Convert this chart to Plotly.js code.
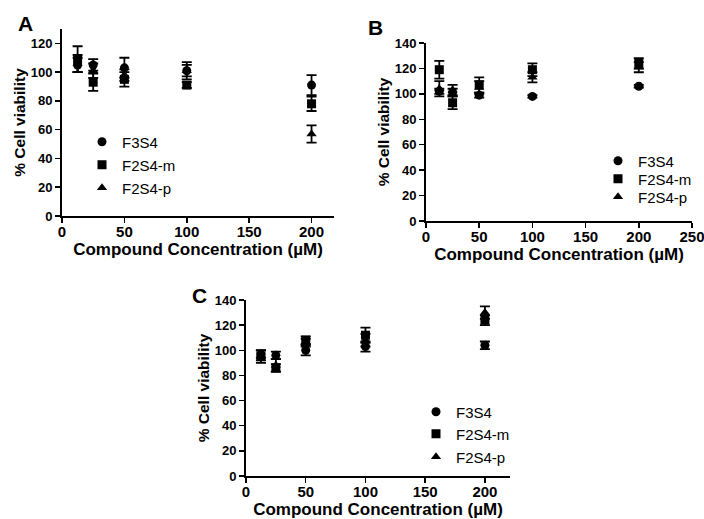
<!DOCTYPE html>
<html>
<head>
<meta charset="utf-8">
<script src="https://cdn.plot.ly/plotly-3.0.1.min.js"></script>
<style>html,body{margin:0;padding:0;background:#fff;}#chart{width:704px;height:519px;}</style>
</head>
<body>
<div id="chart"></div>
<script>
// Concentrations (µM)
var conc = [12.5, 25, 50, 100, 200];
var seriesNames = ["F3S4", "F2S4-m", "F2S4-p"];

// Panel A
var A_F3S4 = [105, 105, 103, 101, 91];
var A_F3S4_err = [5, 4, 7, 6, 7];
var A_F2S4m = [109, 93, 95, 91, 78];
var A_F2S4m_err = [9, 6, 5, 2, 5];
var A_F2S4p = [106, 101, 98, 101, 57];
var A_F2S4p_err = [6, 5, 4, 4, 6];

// Panel B
var B_F3S4 = [102, 101, 99, 98, 106];
var B_F3S4_err = [2, 3, 2, 1, 1];
var B_F2S4m = [119, 93, 107, 119, 124];
var B_F2S4m_err = [7, 5, 6, 5, 4];
var B_F2S4p = [104, 103, 105, 113, 121];
var B_F2S4p_err = [6, 4, 5, 4, 4];

// Panel C
var C_F3S4 = [97, 96, 100, 103, 104];
var C_F3S4_err = [3, 3, 4, 4, 3];
var C_F2S4m = [95, 86, 108, 112, 124];
var C_F2S4m_err = [5, 3, 3, 6, 4];
var C_F2S4p = [96, 88, 106, 108, 130];
var C_F2S4p_err = [4, 5, 3, 5, 5];

var symbols = ["circle", "square", "triangle-up"];
var FONT = "Arial, 'Liberation Sans', sans-serif";

var legIds = ["legend", "legend2", "legend3", "legend4", "legend5", "legend6", "legend7", "legend8", "legend9"];

function mk(y, err, idx, xa, ya, legIdx) {
  return {
    type: "scatter", mode: "markers",
    x: conc, y: y,
    xaxis: xa, yaxis: ya,
    name: seriesNames[idx],
    legend: legIds[legIdx],
    marker: {symbol: symbols[idx], size: 9, color: "#000"},
    error_y: {type: "data", array: err, visible: true, color: "#000", thickness: 1.8, width: 5},
    showlegend: true
  };
}

var data = [
  mk(A_F3S4, A_F3S4_err, 0, "x", "y", 0),
  mk(A_F2S4m, A_F2S4m_err, 1, "x", "y", 1),
  mk(A_F2S4p, A_F2S4p_err, 2, "x", "y", 2),
  mk(B_F3S4, B_F3S4_err, 0, "x2", "y2", 3),
  mk(B_F2S4m, B_F2S4m_err, 1, "x2", "y2", 4),
  mk(B_F2S4p, B_F2S4p_err, 2, "x2", "y2", 5),
  mk(C_F3S4, C_F3S4_err, 0, "x3", "y3", 6),
  mk(C_F2S4m, C_F2S4m_err, 1, "x3", "y3", 7),
  mk(C_F2S4p, C_F2S4p_err, 2, "x3", "y3", 8)
];

var W = 704, H = 519;
function fx(px) { return px / W; }
function fy(py) { return 1 - py / H; }

function xax(d, range, anchor) {
  return {
    anchor: anchor,
    domain: [fx(d[0]), fx(d[1])], range: range,
    tickvals: [0, 50, 100, 150, 200, 250].filter(function(v){return v <= range[1];}),
    ticks: "outside", ticklen: 5, tickwidth: 1.5, tickcolor: "#000",
    ticklabelstandoff: -4, ticklabeloverflow: "allow",
    showline: true, linecolor: "#000", linewidth: 2,
    showgrid: false, zeroline: false,
    tickfont: {family: FONT, size: 15, color: "#000", weight: "bold"},
    title: {text: "Compound Concentration (µM)", font: {family: FONT, size: 17, color: "#000", weight: "bold"}, standoff: 3},
    automargin: false, fixedrange: true
  };
}
function yax(d, range, anchor) {
  return {
    anchor: anchor,
    domain: [fy(d[1]), fy(d[0])], range: range, dtick: 20, tick0: 0,
    ticks: "outside", ticklen: 5, tickwidth: 1.5, tickcolor: "#000",
    ticklabeloverflow: "allow",
    showline: true, linecolor: "#000", linewidth: 2,
    showgrid: false, zeroline: false,
    tickfont: {family: FONT, size: 13, color: "#000", weight: "bold"},
    title: {text: "% Cell viability", font: {family: FONT, size: 15.5, color: "#000", weight: "bold"}, standoff: 1},
    automargin: false, fixedrange: true
  };
}

// legend item positions (marker centre, px)
function legendAt(mx, my) {
  return {
    x: fx(mx - 21), y: fy(my), xanchor: "left", yanchor: "middle",
    bgcolor: "rgba(0,0,0,0)", borderwidth: 0,
    font: {family: FONT, size: 15, color: "#000"},
    itemclick: false, itemdoubleclick: false
  };
}

var layout = {
  width: W, height: H,
  margin: {l: 0, r: 0, t: 0, b: 0},
  paper_bgcolor: "#fff", plot_bgcolor: "#fff",
  showlegend: true,
  xaxis: xax([62, 334], [0, 218], "y"),
  yaxis: yax([29, 216], [0, 130], "x"),
  xaxis2: xax([426, 692], [0, 250], "y2"),
  yaxis2: yax([43, 221], [0, 140], "x2"),
  xaxis3: xax([246, 510], [0, 221], "y3"),
  yaxis3: yax([300, 476], [0, 140], "x3"),
  legend: legendAt(103, 142),
  legend2: legendAt(103, 165),
  legend3: legendAt(103, 188),
  legend4: legendAt(619, 161),
  legend5: legendAt(619, 179),
  legend6: legendAt(619, 197),
  legend7: legendAt(437, 412),
  legend8: legendAt(437, 434),
  legend9: legendAt(437, 457),
  annotations: [
    {text: "A", x: fx(25), y: fy(24), xref: "paper", yref: "paper", xanchor: "center", yanchor: "middle", showarrow: false, font: {family: FONT, size: 21, color: "#000", weight: "bold"}},
    {text: "B", x: fx(375), y: fy(27), xref: "paper", yref: "paper", xanchor: "center", yanchor: "middle", showarrow: false, font: {family: FONT, size: 21, color: "#000", weight: "bold"}},
    {text: "C", x: fx(199), y: fy(295), xref: "paper", yref: "paper", xanchor: "center", yanchor: "middle", showarrow: false, font: {family: FONT, size: 21, color: "#000", weight: "bold"}}
  ]
};

Plotly.newPlot("chart", data, layout, {displayModeBar: false, staticPlot: true});
</script>
</body>
</html>
